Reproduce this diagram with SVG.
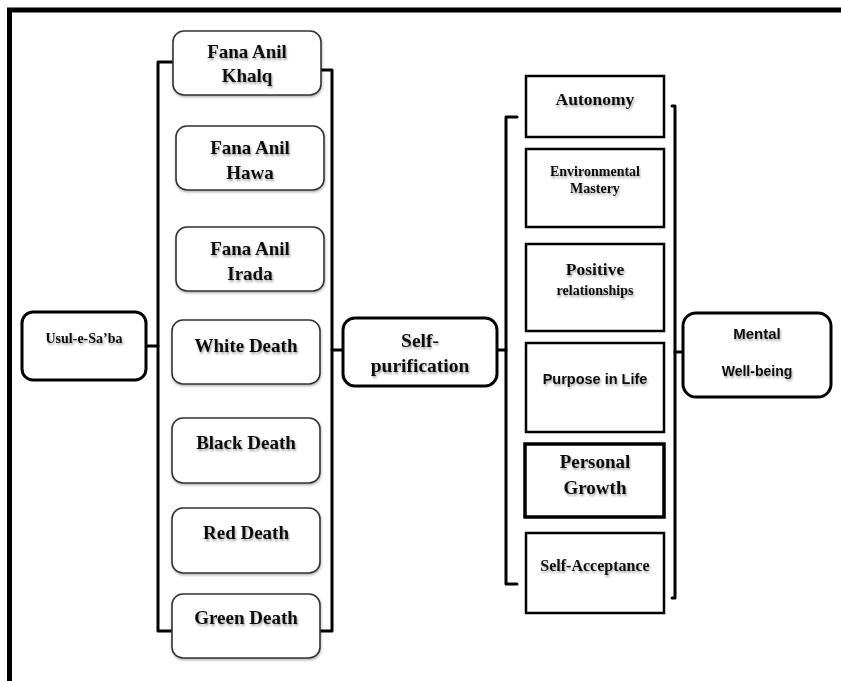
<svg xmlns="http://www.w3.org/2000/svg" width="841" height="681" viewBox="0 0 841 681">
<defs>
<filter id="ts" x="-10%" y="-30%" width="120%" height="170%">
<feDropShadow dx="1" dy="2" stdDeviation="1" flood-color="#000" flood-opacity="0.35"/>
</filter>
<filter id="bs" x="-10%" y="-10%" width="120%" height="125%">
<feDropShadow dx="0.5" dy="1.5" stdDeviation="1" flood-color="#000" flood-opacity="0.3"/>
</filter>
</defs>
<style>
.frame{fill:none;stroke:#000;stroke-width:5}
.soft{fill:#fff;stroke:#333;stroke-width:1.6}
.hard{fill:#fff;stroke:#000;stroke-width:3}
.sq{fill:#fff;stroke:#000;stroke-width:2.5}
.sqb{fill:#fff;stroke:#000;stroke-width:3.5}
.ln{fill:none;stroke:#000;stroke-width:3;stroke-linejoin:round;stroke-linecap:round}
.t{font-family:"Liberation Serif","Times New Roman",serif;font-weight:bold;fill:#111;text-anchor:middle}
.s{font-family:"Liberation Sans",Arial,sans-serif;font-weight:bold;fill:#111;text-anchor:middle}
.sh{filter:url(#ts)}
</style>
<rect width="841" height="681" fill="#fff"/>
<polyline class="frame" points="9.5,681 9.5,10 841,10"/>

<g id="connectors">
<polyline class="ln" points="173,62 158,62 158,631 172,631"/>
<polyline class="ln" points="321,70 332,70 332,631 320,631"/>
<line class="ln" x1="146" y1="346" x2="158" y2="346"/>
<line class="ln" x1="332" y1="350" x2="343" y2="350"/>
<polyline class="ln" points="517,117 506,117 506,584 517,584"/>
<polyline class="ln" points="672,106 675,106 675,598 672,598"/>
<line class="ln" x1="496" y1="350" x2="506" y2="350"/>
<line class="ln" x1="675" y1="352" x2="683" y2="352"/>
</g>

<g id="usul">
<rect class="hard" x="22" y="312" width="124" height="68" rx="11"/>
<text class="t sh" x="84" y="343" font-size="14">Usul-e-Sa’ba</text>
</g>

<g id="fana-khalq" filter="url(#bs)">
<rect class="soft" x="173" y="31" width="148" height="64" rx="11"/>
<text class="t sh" x="247" y="58" font-size="19">Fana Anil</text>
<text class="t sh" x="247" y="82" font-size="19">Khalq</text>
</g>
<g id="fana-hawa" filter="url(#bs)">
<rect class="soft" x="176" y="126" width="148" height="64" rx="11"/>
<text class="t sh" x="250" y="154" font-size="19">Fana Anil</text>
<text class="t sh" x="250" y="179" font-size="19">Hawa</text>
</g>
<g id="fana-irada" filter="url(#bs)">
<rect class="soft" x="176" y="227" width="148" height="64" rx="11"/>
<text class="t sh" x="250" y="255" font-size="19">Fana Anil</text>
<text class="t sh" x="250" y="280" font-size="19">Irada</text>
</g>
<g id="white-death" filter="url(#bs)">
<rect class="soft" x="172" y="320" width="148" height="64" rx="11"/>
<text class="t sh" x="246" y="352" font-size="19">White Death</text>
</g>
<g id="black-death" filter="url(#bs)">
<rect class="soft" x="172" y="418" width="148" height="65" rx="11"/>
<text class="t sh" x="246" y="449" font-size="19">Black Death</text>
</g>
<g id="red-death" filter="url(#bs)">
<rect class="soft" x="172" y="508" width="148" height="65" rx="11"/>
<text class="t sh" x="246" y="539" font-size="19">Red Death</text>
</g>
<g id="green-death" filter="url(#bs)">
<rect class="soft" x="172" y="594" width="148" height="64" rx="11"/>
<text class="t sh" x="246" y="624" font-size="19">Green Death</text>
</g>

<g id="self-purification">
<rect class="hard" x="343" y="318" width="154" height="68" rx="12"/>
<text class="t sh" x="420" y="347" font-size="19.5">Self-</text>
<text class="t sh" x="420" y="372" font-size="19.5">purification</text>
</g>

<g id="autonomy">
<rect class="sq" x="526" y="76" width="138" height="61"/>
<text class="t sh" x="595" y="105" font-size="17.5">Autonomy</text>
</g>
<g id="environmental-mastery">
<rect class="sq" x="526" y="149" width="138" height="78"/>
<text class="t sh" x="595" y="176" font-size="14">Environmental</text>
<text class="t sh" x="595" y="193" font-size="14">Mastery</text>
</g>
<g id="positive-relationships">
<rect class="sq" x="526" y="244" width="138" height="87"/>
<text class="t sh" x="595" y="275" font-size="17.5">Positive</text>
<text class="t sh" x="595" y="295" font-size="14">relationships</text>
</g>
<g id="purpose-in-life">
<rect class="sq" x="526" y="343" width="138" height="89"/>
<text class="s sh" x="595" y="384" font-size="14.5">Purpose in Life</text>
</g>
<g id="personal-growth">
<rect class="sqb" x="525" y="444" width="139" height="73"/>
<text class="t sh" x="595" y="468" font-size="19">Personal</text>
<text class="t sh" x="595" y="494" font-size="19">Growth</text>
</g>
<g id="self-acceptance">
<rect class="sq" x="526" y="533" width="138" height="80"/>
<text class="t sh" x="595" y="571" font-size="16">Self-Acceptance</text>
</g>

<g id="mental-well-being">
<rect class="hard" x="683" y="313" width="148" height="84" rx="13"/>
<text class="s sh" x="757" y="339" font-size="15">Mental</text>
<text class="s sh" x="757" y="376" font-size="14">Well-being</text>
</g>
</svg>
